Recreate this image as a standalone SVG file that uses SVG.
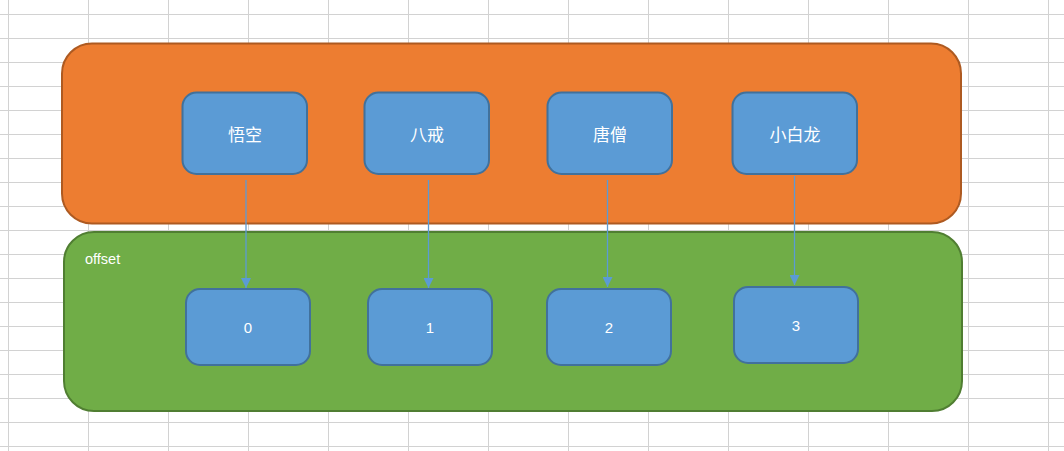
<svg xmlns="http://www.w3.org/2000/svg" width="1064" height="451" viewBox="0 0 1064 451">
<defs>
<marker id="arr" viewBox="0 0 10 10" refX="10" refY="5" markerWidth="10" markerHeight="10" markerUnits="userSpaceOnUse" orient="auto">
<path d="M0 0L10 5L0 10Z" fill="#5B9BD5"/>
</marker>
</defs>
<style>
.node rect{fill:#5B9BD5;stroke:#41719C;stroke-width:2}
.cn{font-family:"Noto Sans CJK SC","Noto Sans",sans-serif;font-size:17px;fill:#fff;text-anchor:middle;dominant-baseline:central}
.num{font-family:"Liberation Sans","Noto Sans",sans-serif;font-size:15px;fill:#fff;text-anchor:middle;dominant-baseline:central}
.conn line{stroke:#5B9BD5;stroke-width:1.3;marker-end:url(#arr)}
.grid{fill:none;stroke:#d2d2d2;stroke-width:1;shape-rendering:crispEdges}
</style>
<rect width="1064" height="451" fill="#fff"/>
<path class="grid" d="M8.5 0V451M88.5 0V451M168.5 0V451M248.5 0V451M328.5 0V451M408.5 0V451M488.5 0V451M568.5 0V451M648.5 0V451M728.5 0V451M808.5 0V451M888.5 0V451M968.5 0V451M1048.5 0V451M0 14.5H1064M0 38.5H1064M0 62.5H1064M0 86.5H1064M0 110.5H1064M0 134.5H1064M0 158.5H1064M0 182.5H1064M0 206.5H1064M0 230.5H1064M0 254.5H1064M0 278.5H1064M0 302.5H1064M0 326.5H1064M0 350.5H1064M0 374.5H1064M0 398.5H1064M0 422.5H1064M0 446.5H1064"/>
<g id="outer">
<rect x="62" y="43.5" width="899" height="180" rx="30" fill="#ED7D31" stroke="#AE5A21" stroke-width="2"/>
</g>
<g id="offset">
<rect x="64" y="232" width="898" height="179" rx="30" fill="#70AD47" stroke="#507E32" stroke-width="2"/>
<text x="85" y="259" font-family="Liberation Sans,sans-serif" font-size="14.5" fill="#fff" dominant-baseline="central">offset</text>
</g>
<g id="n-wukong" class="node"><rect x="182.5" y="92.5" width="124.5" height="81.5" rx="14"/><text class="cn" x="245" y="133">悟空</text></g>
<g id="n-bajie" class="node"><rect x="364.5" y="92.5" width="124.5" height="81.5" rx="14"/><text class="cn" x="427" y="133">八戒</text></g>
<g id="n-tangseng" class="node"><rect x="547.5" y="92.5" width="124.5" height="81.5" rx="14"/><text class="cn" x="610" y="133">唐僧</text></g>
<g id="n-xiaobailong" class="node"><rect x="732.5" y="92.5" width="124.5" height="81.5" rx="14"/><text class="cn" x="795" y="133">小白龙</text></g>
<g id="n-0" class="node"><rect x="186" y="289" width="124" height="76" rx="14"/><text class="num" x="248" y="327">0</text></g>
<g id="n-1" class="node"><rect x="368" y="289" width="124" height="76" rx="14"/><text class="num" x="430" y="327">1</text></g>
<g id="n-2" class="node"><rect x="547" y="289" width="124" height="76" rx="14"/><text class="num" x="609" y="327">2</text></g>
<g id="n-3" class="node"><rect x="734" y="287" width="124" height="76" rx="14"/><text class="num" x="796" y="325">3</text></g>
<g id="connectors" class="conn">
<line x1="246" y1="180" x2="246" y2="288"/>
<line x1="428.5" y1="180" x2="428.5" y2="288"/>
<line x1="607.5" y1="180" x2="607.5" y2="287"/>
<line x1="794.5" y1="176" x2="794.5" y2="285"/>
</g>
</svg>
